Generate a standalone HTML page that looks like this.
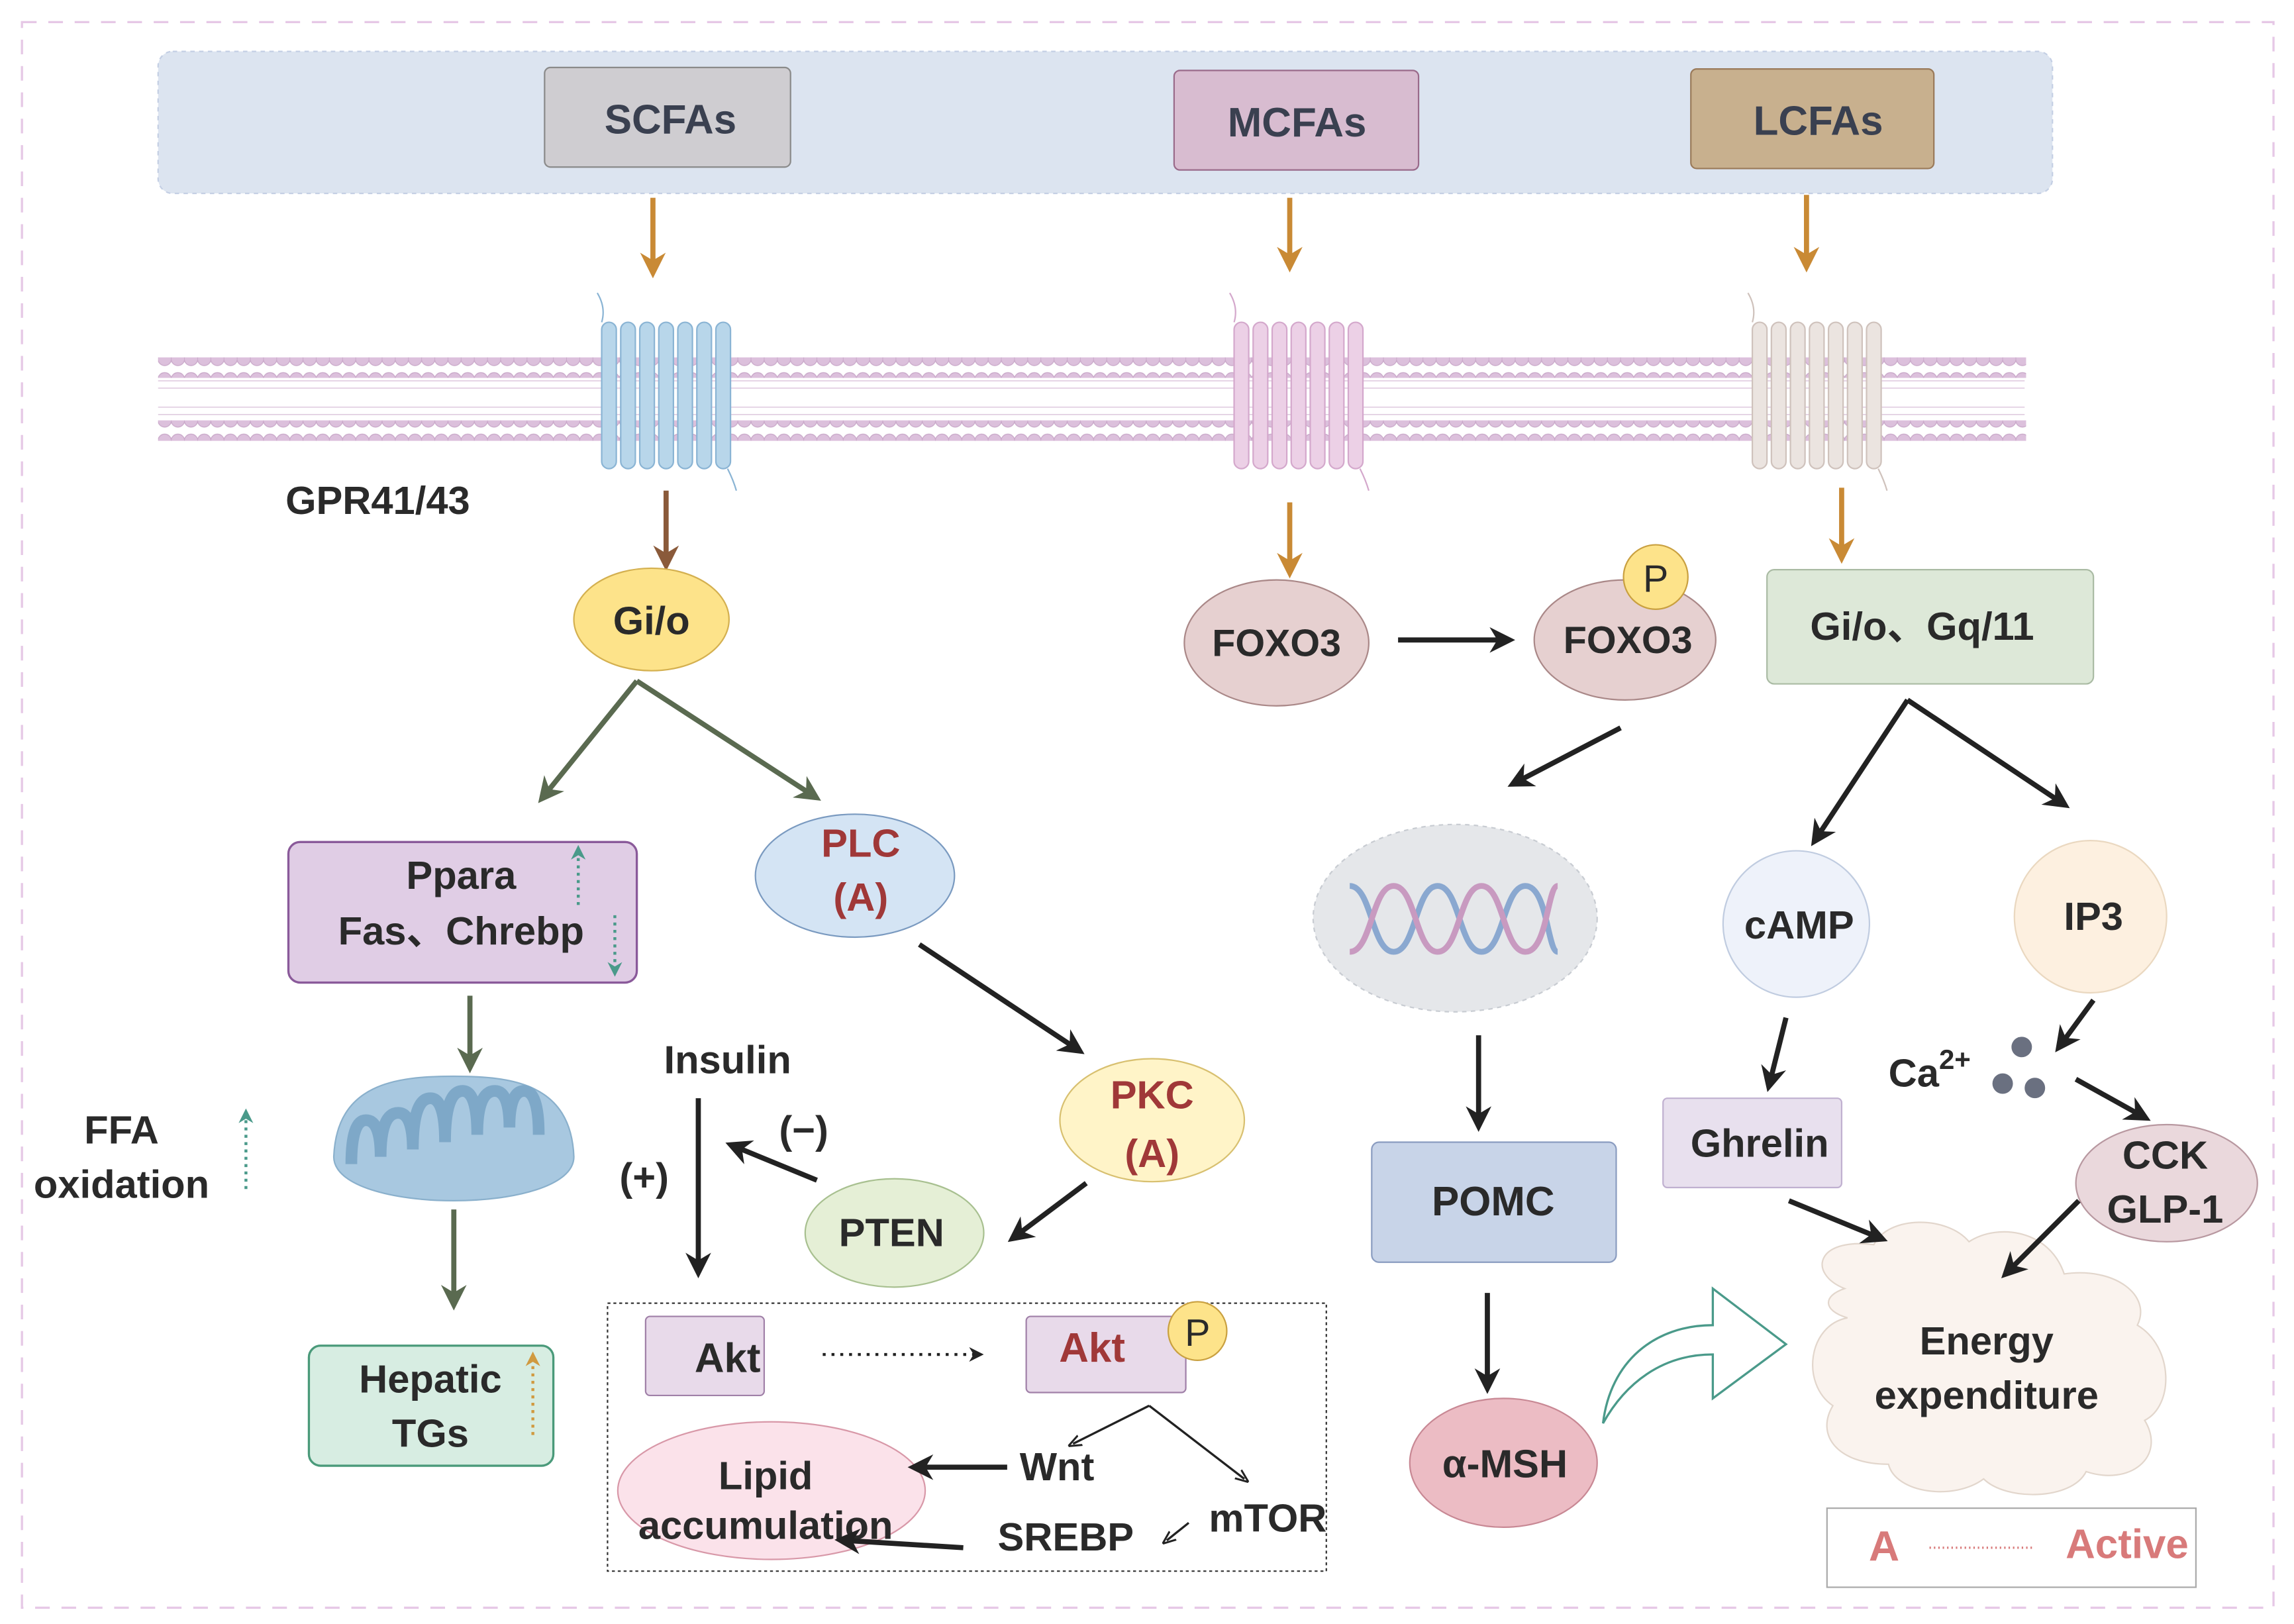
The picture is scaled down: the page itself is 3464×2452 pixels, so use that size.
<!DOCTYPE html>
<html><head><meta charset="utf-8"><style>
html,body{margin:0;padding:0;background:#fff;}
svg{display:block;}
text{font-family:"Liberation Sans",sans-serif;font-weight:bold;fill:#2a2a2a;}
text.r{fill:#a03838;}
text.l{fill:#d87a7a;}
text.t{fill:#3a4050;}
</style></head><body>
<svg width="3464" height="2452" viewBox="0 0 1567 1109" xmlns="http://www.w3.org/2000/svg">
<defs>
<marker id="ao" viewBox="0 0 10 10" refX="6" refY="5" markerWidth="5" markerHeight="5" orient="auto"><path d="M0,0 L10,5 L0,10 L3,5z" fill="#c98a35"/></marker>
<marker id="ab" viewBox="0 0 10 10" refX="6" refY="5" markerWidth="5" markerHeight="5" orient="auto"><path d="M0,0 L10,5 L0,10 L3,5z" fill="#8a5a3a"/></marker>
<marker id="ag" viewBox="0 0 10 10" refX="6" refY="5" markerWidth="5" markerHeight="5" orient="auto"><path d="M0,0 L10,5 L0,10 L3,5z" fill="#5a6a50"/></marker>
<marker id="ak" viewBox="0 0 10 10" refX="6" refY="5" markerWidth="5" markerHeight="5" orient="auto"><path d="M0,0 L10,5 L0,10 L3,5z" fill="#222"/></marker>
<marker id="ak2" viewBox="0 0 10 10" refX="6" refY="5" markerWidth="6" markerHeight="6" orient="auto"><path d="M0,1 L10,5 L0,9" fill="none" stroke="#222" stroke-width="1.5"/></marker>
<marker id="at" viewBox="0 0 10 10" refX="5" refY="5" markerWidth="5" markerHeight="5" orient="auto"><path d="M0,0 L10,5 L0,10 L3,5z" fill="#4a9a8a"/></marker>
<marker id="ay" viewBox="0 0 10 10" refX="5" refY="5" markerWidth="5" markerHeight="5" orient="auto"><path d="M0,0 L10,5 L0,10 L3,5z" fill="#d09a40"/></marker>
<pattern id="mem" x="108" y="0" width="9" height="14" patternUnits="userSpaceOnUse"><circle cx="4.5" cy="7" r="4.6" fill="#dcc0dc" stroke="#c9a8c9" stroke-width="0.6"/></pattern>
</defs>
<rect x="15" y="15" width="1538" height="1083" fill="none" stroke="#e6c8e6" stroke-width="1.5" stroke-dasharray="10,8"/>
<rect x="108" y="35" width="1294" height="97" rx="10" fill="#dce4f0" stroke="#c4cfe4" stroke-dasharray="3,3"/>
<rect x="372" y="46" width="168" height="68" rx="4" fill="#cfcdd1" stroke="#8a8a8a"/>
<text x="458" y="91" font-size="28" text-anchor="middle" class="t">SCFAs</text>
<rect x="802" y="48" width="167" height="68" rx="4" fill="#d8bcd0" stroke="#9a6a8a"/>
<text x="886" y="93" font-size="28" text-anchor="middle" class="t">MCFAs</text>
<rect x="1155" y="47" width="166" height="68" rx="4" fill="#c8b08e" stroke="#9a7a5a"/>
<text x="1242" y="92" font-size="28" text-anchor="middle" class="t">LCFAs</text>
<g stroke="#c98a35" stroke-width="3.5" marker-end="url(#ao)">
<line x1="446" y1="135" x2="446" y2="183"/><line x1="881" y1="135" x2="881" y2="179"/><line x1="1234" y1="133" x2="1234" y2="179"/>
<line x1="881" y1="343" x2="881" y2="388"/><line x1="1258" y1="333" x2="1258" y2="378"/>
</g>
<!-- membrane -->
<g stroke="#e2cfe2" stroke-width="0.8">
<path d="M108,260 H1383 M108,265 H1383 M108,278 H1383 M108,283 H1383"/>
</g>
<rect x="108" y="244" width="1276" height="14" fill="url(#mem)"/>
<rect x="108" y="287" width="1276" height="14" fill="url(#mem)"/>
<!-- receptors -->
<g fill="#b8d6ea" stroke="#8ab4d4" stroke-width="1">
<rect x="411" y="220" width="10" height="100" rx="5"/><rect x="424" y="220" width="10" height="100" rx="5"/><rect x="437" y="220" width="10" height="100" rx="5"/><rect x="450" y="220" width="10" height="100" rx="5"/><rect x="463" y="220" width="10" height="100" rx="5"/><rect x="476" y="220" width="10" height="100" rx="5"/><rect x="489" y="220" width="10" height="100" rx="5"/>
</g>
<path d="M408,200 q6,10 3,20 M497,320 q4,8 6,15" stroke="#8ab4d4" fill="none"/>
<g fill="#ecd0e6" stroke="#d4a8cc" stroke-width="1">
<rect x="843" y="220" width="10" height="100" rx="5"/><rect x="856" y="220" width="10" height="100" rx="5"/><rect x="869" y="220" width="10" height="100" rx="5"/><rect x="882" y="220" width="10" height="100" rx="5"/><rect x="895" y="220" width="10" height="100" rx="5"/><rect x="908" y="220" width="10" height="100" rx="5"/><rect x="921" y="220" width="10" height="100" rx="5"/>
</g>
<path d="M840,200 q6,10 3,20 M929,320 q4,8 6,15" stroke="#d4a8cc" fill="none"/>
<g fill="#ebe4e0" stroke="#cfc2bc" stroke-width="1">
<rect x="1197" y="220" width="10" height="100" rx="5"/><rect x="1210" y="220" width="10" height="100" rx="5"/><rect x="1223" y="220" width="10" height="100" rx="5"/><rect x="1236" y="220" width="10" height="100" rx="5"/><rect x="1249" y="220" width="10" height="100" rx="5"/><rect x="1262" y="220" width="10" height="100" rx="5"/><rect x="1275" y="220" width="10" height="100" rx="5"/>
</g>
<path d="M1194,200 q6,10 3,20 M1283,320 q4,8 6,15" stroke="#cfc2bc" fill="none"/>
<text x="195" y="351" font-size="27">GPR41/43</text>
<line x1="455" y1="335" x2="455" y2="383" stroke="#8a5a3a" stroke-width="3.5" marker-end="url(#ab)"/>
<ellipse cx="445" cy="423" rx="53" ry="35" fill="#fde38a" stroke="#d4b050"/>
<text x="445" y="433" font-size="27" text-anchor="middle">Gi/o</text>
<!-- FOXO3 -->
<ellipse cx="872" cy="439" rx="63" ry="43" fill="#e6d0d0" stroke="#a88"/>
<text x="872" y="448" font-size="26" text-anchor="middle">FOXO3</text>
<ellipse cx="1110" cy="437" rx="62" ry="41" fill="#e6d0d0" stroke="#a88"/>
<text x="1112" y="446" font-size="26" text-anchor="middle">FOXO3</text>
<circle cx="1131" cy="394" r="22" fill="#fde38a" stroke="#c9a040"/>
<text x="1131" y="404" font-size="26" text-anchor="middle" style="font-weight:normal">P</text>
<rect x="1207" y="389" width="223" height="78" rx="5" fill="#dde8d8" stroke="#aabba4"/>
<text x="1313" y="437" font-size="27" text-anchor="middle" style="font-family:'Liberation Sans','Noto Sans CJK SC',sans-serif">Gi/o、Gq/11</text>
<!-- left branch -->
<g stroke="#5a6a50" stroke-width="3.5" marker-end="url(#ag)">
<line x1="435" y1="465" x2="372" y2="543"/><line x1="435" y1="465" x2="555" y2="543"/>
<line x1="321" y1="680" x2="321" y2="726"/><line x1="310" y1="826" x2="310" y2="888"/>
</g>
<rect x="197" y="575" width="238" height="96" rx="8" fill="#e0cde5" stroke="#8a5a9a" stroke-width="1.5"/>
<text x="315" y="607" font-size="27" text-anchor="middle">Ppara</text>
<text x="315" y="645" font-size="27" text-anchor="middle" style="font-family:'Liberation Sans','Noto Sans CJK SC',sans-serif">Fas、Chrebp</text>
<line x1="395" y1="618" x2="395" y2="582" stroke="#4a9a8a" stroke-width="2" stroke-dasharray="2,3" marker-end="url(#at)"/>
<line x1="420" y1="625" x2="420" y2="662" stroke="#4a9a8a" stroke-width="2" stroke-dasharray="2,3" marker-end="url(#at)"/>
<!-- mitochondrion -->
<path d="M228,790 C230,740 270,735 310,735 C350,735 390,740 392,790 C392,830 228,830 228,790z" fill="#a8c8e0" stroke="#8ab0cc"/>
<path d="M240,795 q0,-30 10,-30 q10,0 10,25 q0,-30 12,-30 q10,0 10,25 q0,-35 12,-35 q10,0 10,30 q0,-35 12,-35 q10,0 10,30 q0,-30 12,-30 q10,0 10,25 q0,-25 10,-25 q10,0 10,30" fill="none" stroke="#7ea8c8" stroke-width="8"/>
<text x="83" y="781" font-size="27" text-anchor="middle">FFA</text>
<text x="83" y="818" font-size="27" text-anchor="middle">oxidation</text>
<line x1="168" y1="812" x2="168" y2="762" stroke="#4a9a8a" stroke-width="2" stroke-dasharray="2,3" marker-end="url(#at)"/>
<rect x="211" y="919" width="167" height="82" rx="8" fill="#d7ede2" stroke="#4a9a7a" stroke-width="1.5"/>
<text x="294" y="951" font-size="27" text-anchor="middle">Hepatic</text>
<text x="294" y="988" font-size="27" text-anchor="middle">TGs</text>
<line x1="364" y1="980" x2="364" y2="928" stroke="#d09a40" stroke-width="2" stroke-dasharray="2,3" marker-end="url(#ay)"/>
<!-- PLC etc -->
<ellipse cx="584" cy="598" rx="68" ry="42" fill="#d4e4f4" stroke="#7a9ac0"/>
<text x="588" y="585" font-size="27" text-anchor="middle" class="r">PLC</text>
<text x="588" y="622" font-size="27" text-anchor="middle" class="r">(A)</text>
<ellipse cx="787" cy="765" rx="63" ry="42" fill="#fff4c8" stroke="#d8c070"/>
<text x="787" y="757" font-size="27" text-anchor="middle" class="r">PKC</text>
<text x="787" y="797" font-size="27" text-anchor="middle" class="r">(A)</text>
<ellipse cx="611" cy="842" rx="61" ry="37" fill="#e5efd6" stroke="#a8c090"/>
<text x="609" y="851" font-size="27" text-anchor="middle">PTEN</text>
<text x="497" y="733" font-size="27" text-anchor="middle">Insulin</text>
<text x="549" y="781" font-size="27" text-anchor="middle">(−)</text>
<text x="440" y="813" font-size="27" text-anchor="middle">(+)</text>
<rect x="415" y="890" width="491" height="183" fill="none" stroke="#333" stroke-dasharray="2,2"/>
<rect x="441" y="899" width="81" height="54" rx="3" fill="#e8daea" stroke="#a080a8"/>
<text x="497" y="937" font-size="28" text-anchor="middle">Akt</text>
<line x1="562" y1="925" x2="668" y2="925" stroke="#222" stroke-width="2" stroke-dasharray="2,4" marker-end="url(#ak)"/>
<rect x="701" y="899" width="109" height="52" rx="3" fill="#e8daea" stroke="#a080a8"/>
<text x="746" y="930" font-size="28" text-anchor="middle" class="r">Akt</text>
<circle cx="818" cy="909" r="20" fill="#fde38a" stroke="#c9a040"/>
<text x="818" y="919" font-size="26" text-anchor="middle" style="font-weight:normal">P</text>
<path d="M785,960 L850,1010" stroke="#222" stroke-width="1.5" fill="none" marker-end="url(#ak2)"/>
<path d="M785,960 L733,986" stroke="#222" stroke-width="1.5" fill="none" marker-end="url(#ak2)"/>
<text x="722" y="1011" font-size="27" text-anchor="middle">Wnt</text>
<ellipse cx="527" cy="1018" rx="105" ry="47" fill="#fbe2ea" stroke="#d898a8"/>
<text x="523" y="1017" font-size="27" text-anchor="middle">Lipid</text>
<text x="523" y="1051" font-size="27" text-anchor="middle">accumulation</text>
<text x="866" y="1046" font-size="27" text-anchor="middle">mTOR</text>
<line x1="812" y1="1040" x2="797" y2="1052" stroke="#222" stroke-width="1.5" marker-end="url(#ak2)"/>
<text x="728" y="1059" font-size="27" text-anchor="middle">SREBP</text>
<!-- DNA -->
<ellipse cx="994" cy="627" rx="97" ry="64" fill="#e5e7ea" stroke="#c8ccd2" stroke-dasharray="3,3"/>
<path d="M922,605 C937,605 937,650 952,650 C967,650 967,605 982,605 C997,605 997,650 1012,650 C1027,650 1027,605 1042,605 C1057,605 1057,650 1064,650" fill="none" stroke="#8aa8d0" stroke-width="4"/>
<path d="M922,650 C937,650 937,605 952,605 C967,605 967,650 982,650 C997,650 997,605 1012,605 C1027,605 1027,650 1042,650 C1057,650 1057,605 1064,605" fill="none" stroke="#c89ac0" stroke-width="4"/>
<rect x="937" y="780" width="167" height="82" rx="5" fill="#c8d4e8" stroke="#8a9cc0"/>
<text x="1020" y="830" font-size="28" text-anchor="middle">POMC</text>
<ellipse cx="1027" cy="999" rx="64" ry="44" fill="#ecbcc4" stroke="#c88894"/>
<text x="1028" y="1009" font-size="27" text-anchor="middle">α-MSH</text>
<path d="M1095,972 C1100,930 1130,905 1170,905 L1170,880 L1220,918 L1170,955 L1170,925 C1135,925 1110,945 1095,972z" fill="#fff" stroke="#4a9a8a" stroke-width="1.5"/>
<!-- right -->
<circle cx="1227" cy="631" r="50" fill="#eef2fa" stroke="#c0cce0"/>
<text x="1229" y="641" font-size="27" text-anchor="middle">cAMP</text>
<circle cx="1428" cy="626" r="52" fill="#fdf0e0" stroke="#ead8c0"/>
<text x="1430" y="635" font-size="27" text-anchor="middle">IP3</text>
<rect x="1136" y="750" width="122" height="61" rx="3" fill="#e8e0ee" stroke="#c0b0d0"/>
<text x="1202" y="790" font-size="27" text-anchor="middle">Ghrelin</text>
<text x="1290" y="742" font-size="27">Ca<tspan font-size="19" dy="-12">2+</tspan></text>
<circle cx="1381" cy="715" r="7" fill="#6a7080"/><circle cx="1368" cy="740" r="7" fill="#6a7080"/><circle cx="1390" cy="743" r="7" fill="#6a7080"/>
<path d="M1260,880 C1235,870 1240,845 1280,850 C1290,830 1330,830 1345,848 C1365,835 1400,840 1410,870 C1445,865 1470,885 1460,905 C1485,920 1485,960 1465,970 C1480,995 1455,1015 1425,1005 C1415,1025 1370,1025 1355,1010 C1335,1025 1295,1020 1290,1000 C1255,1000 1240,980 1252,960 C1230,945 1235,905 1262,900 C1245,895 1245,885 1260,880z" fill="#faf3ee" stroke="#e2d6cc"/>
<text x="1357" y="925" font-size="27" text-anchor="middle">Energy</text>
<text x="1357" y="962" font-size="27" text-anchor="middle">expenditure</text>
<ellipse cx="1480" cy="808" rx="62" ry="40" fill="#ead8dc" stroke="#b898a0"/>
<text x="1479" y="798" font-size="27" text-anchor="middle">CCK</text>
<text x="1479" y="835" font-size="27" text-anchor="middle">GLP-1</text>
<rect x="1248" y="1030" width="252" height="54" fill="#fff" stroke="#aaa"/>
<text x="1287" y="1066" font-size="29" text-anchor="middle" class="l">A</text>
<line x1="1318" y1="1057" x2="1390" y2="1057" stroke="#d87a7a" stroke-width="1.5" stroke-dasharray="1,2"/>
<text x="1453" y="1064" font-size="28" text-anchor="middle" class="l">Active</text>
<!-- black arrows on top -->
<g stroke="#222" stroke-width="3.5" marker-end="url(#ak)">
<line x1="955" y1="437" x2="1028" y2="437"/>
<line x1="628" y1="645" x2="735" y2="716"/><line x1="742" y1="808" x2="694" y2="844"/>
<line x1="558" y1="806" x2="502" y2="783"/><line x1="477" y1="750" x2="477" y2="866"/>
<line x1="1107" y1="497" x2="1036" y2="534"/><line x1="1010" y1="707" x2="1010" y2="766"/>
<line x1="1016" y1="883" x2="1016" y2="945"/>
<line x1="1303" y1="478" x2="1241" y2="572"/><line x1="1303" y1="478" x2="1408" y2="548"/>
<line x1="1220" y1="695" x2="1209" y2="739"/><line x1="1430" y1="683" x2="1408" y2="713"/>
<line x1="1418" y1="737" x2="1463" y2="762"/>
<line x1="1222" y1="820" x2="1283" y2="845"/><line x1="1420" y1="820" x2="1372" y2="868"/>
<line x1="688" y1="1002" x2="627" y2="1002"/><line x1="658" y1="1057" x2="577" y2="1052"/>
</g>
</svg>
</body></html>
